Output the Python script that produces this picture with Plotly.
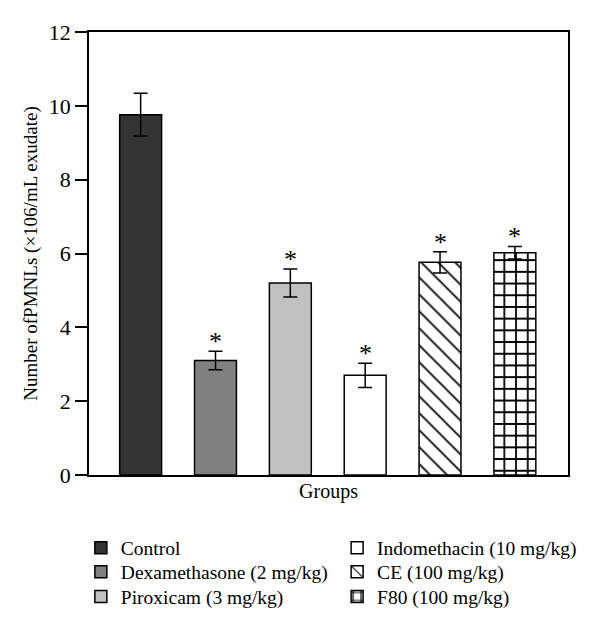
import plotly.graph_objects as go

groups = ["Control", "Dexamethasone (2 mg/kg)", "Piroxicam (3 mg/kg)",
          "Indomethacin (10 mg/kg)", "CE (100 mg/kg)", "F80 (100 mg/kg)"]
means = [9.76, 3.10, 5.20, 2.70, 5.76, 6.02]
sems = [0.58, 0.25, 0.38, 0.33, 0.29, 0.17]
significant = [False, True, True, True, True, True]

fills = ["#333333", "#808080", "#c0c0c0", "#ffffff", "#ffffff", "#ffffff"]
patterns = ["", "", "", "", "\\", "+"]

# one legend per entry so the two legend columns can be placed freely
legend_ids = ["legend", "legend2", "legend3", "legend4", "legend5", "legend6"]
legend_x = [-0.017, -0.017, -0.017, 0.518, 0.518, 0.518]
legend_y = [-0.165, -0.219, -0.275, -0.165, -0.219, -0.275]

FONT = "Liberation Serif"
fig = go.Figure()

for i in range(len(groups)):
    fig.add_trace(go.Bar(
        x=[i], y=[means[i]], name=groups[i], width=0.56, legend=legend_ids[i],
        marker=dict(color=fills[i], line=dict(color="#000000", width=1.5),
                    pattern=dict(shape=patterns[i], fgcolor="#000000", bgcolor="#ffffff",
                                 fgopacity=1,
                                 size=12 if patterns[i] == "\\" else 11.7,
                                 solidity=0.14 if patterns[i] == "\\" else 0.28,
                                 fillmode="overlay")),
        error_y=dict(type="data", array=[sems[i]], color="#000000", thickness=1.5, width=7),
        showlegend=True,
    ))

for i in range(len(groups)):
    if significant[i]:
        fig.add_annotation(x=i, y=means[i] + sems[i], text="*", showarrow=False,
                           yanchor="bottom", yshift=-7,
                           font=dict(family=FONT, size=26, color="#000000"))

legends = {}
for i, lid in enumerate(legend_ids):
    legends[lid] = dict(orientation="v", x=legend_x[i], y=legend_y[i],
                        xanchor="left", yanchor="middle",
                        font=dict(family=FONT, size=19.5),
                        bgcolor="rgba(0,0,0,0)")

fig.update_layout(
    width=600, height=631,
    margin=dict(l=81, r=40, t=24, b=164, autoexpand=False),
    plot_bgcolor="#ffffff", paper_bgcolor="#ffffff",
    barmode="overlay",
    font=dict(family=FONT, size=19, color="#000000"),
    showlegend=True,
    **legends,
)
fig.update_xaxes(range=[-0.69, 5.71], showticklabels=False, ticks="",
                 showline=True, linecolor="#000000", linewidth=1.5, mirror=True,
                 showgrid=False, zeroline=False, automargin=False,
                 title=dict(text="Groups", font=dict(family=FONT, size=20), standoff=8))
fig.update_yaxes(range=[0, 12], tickvals=[0, 2, 4, 6, 8, 10, 12], ticks="outside", ticklen=12,
                 tickwidth=1.5, tickcolor="#000000",
                 showline=True, linecolor="#000000", linewidth=1.5, mirror=True,
                 showgrid=False, zeroline=False, automargin=False,
                 tickfont=dict(family=FONT, size=22),
                 title=dict(text="Number ofPMNLs (×106/mL exudate)", font=dict(family=FONT, size=19), standoff=6))

fig.write_html("out.html")
